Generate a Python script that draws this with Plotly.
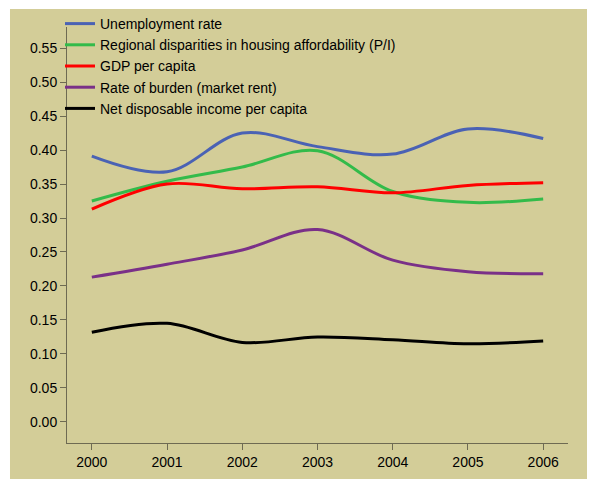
import plotly.graph_objects as go

years = [2000, 2001, 2002, 2003, 2004, 2005, 2006]
unemployment = [0.391, 0.368, 0.425, 0.405, 0.394, 0.431, 0.417]
housing_disparities = [0.325, 0.354, 0.375, 0.399, 0.339, 0.323, 0.328]
gdp = [0.313, 0.350, 0.343, 0.346, 0.337, 0.348, 0.352]
burden = [0.213, 0.232, 0.253, 0.283, 0.238, 0.221, 0.218]
income = [0.132, 0.145, 0.117, 0.125, 0.121, 0.115, 0.119]

series_names = [
    "Unemployment rate",
    "Regional disparities in housing affordability (P/I)",
    "GDP per capita",
    "Rate of burden (market rent)",
    "Net disposable income per capita",
]
series_values = [unemployment, housing_disparities, gdp, burden, income]
series_colors = ["#4A62B4", "#33BB4A", "#FF0000", "#7A3088", "#000000"]

y_ticks = [0.00, 0.05, 0.10, 0.15, 0.20, 0.25, 0.30, 0.35, 0.40, 0.45, 0.50, 0.55]

fig = go.Figure()
for name, vals, col in zip(series_names, series_values, series_colors):
    fig.add_trace(go.Scatter(
        x=years, y=vals, name=name, mode="lines",
        line=dict(color=col, width=3, shape="spline", smoothing=1.0),
    ))

bg = "#D3CD98"
axis_col = "#6E6A52"
fig.update_layout(
    width=595, height=479,
    margin=dict(l=59, r=35, t=19, b=44, autoexpand=False),
    paper_bgcolor="white",
    plot_bgcolor=bg,
    font=dict(family="Liberation Sans, Arial, sans-serif", size=14, color="black"),
    showlegend=True,
    legend=dict(x=-0.014, y=1.019, xanchor="left", yanchor="top", yref="container",
                bgcolor="rgba(0,0,0,0)", font=dict(size=14),
                tracegroupgap=0, itemwidth=30),
    shapes=[dict(type="rect", xref="paper", yref="paper",
                 x0=-0.1138, x1=1.2, y0=-0.2, y1=1.0433,
                 fillcolor=bg, line=dict(width=0), layer="below")],
)
fig.update_xaxes(range=[1999.67, 2006.33], tickvals=years, ticktext=[str(y) for y in years],
                 showgrid=False, zeroline=False, showline=True, linecolor=axis_col, linewidth=1,
                 ticks="outside", ticklen=6, tickcolor=axis_col, tickfont=dict(size=14))
fig.update_yaxes(range=[-0.031, 0.581], tickvals=y_ticks, ticktext=[f"{v:.2f}" for v in y_ticks],
                 showgrid=False, zeroline=False, showline=True, linecolor=axis_col, linewidth=1,
                 ticks="outside", ticklen=6, tickcolor=axis_col, tickfont=dict(size=14))

fig.write_html("out.html")
